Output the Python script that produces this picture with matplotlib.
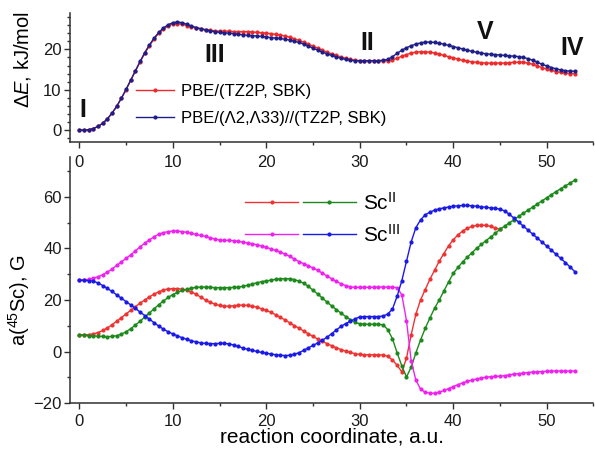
import numpy as np
import matplotlib
matplotlib.use("Agg")
import matplotlib.pyplot as plt
from matplotlib.ticker import MultipleLocator
from matplotlib.legend_handler import HandlerTuple

plt.rcParams['font.family'] = ['Liberation Sans', 'DejaVu Sans']
plt.rcParams['mathtext.fontset'] = 'custom'
plt.rcParams['mathtext.rm'] = 'Liberation Sans'
plt.rcParams['mathtext.it'] = 'Liberation Sans:italic'

#
# Reaction coordinate grid (a.u.), 0.5 step
#
coord = np.arange(0, 53.5, 0.5)

#
# Relative energies, kJ/mol
#
dE_tz2p = [0.0, 0.0, 0.1, 0.4, 0.9, 1.7, 2.8, 4.2, 5.9, 7.9,
           10.0, 12.3, 14.6, 16.9, 19.0, 20.9, 22.6, 24.0, 25.0, 25.8,
           26.3, 26.4, 26.2, 25.9, 25.6, 25.3, 25.1, 24.9, 24.7, 24.6,
           24.5, 24.5, 24.5, 24.4, 24.4, 24.4, 24.4, 24.3, 24.2, 24.1,
           24.0, 23.9, 23.7, 23.5, 23.3, 23.0, 22.6, 22.2, 21.8, 21.3,
           20.8, 20.3, 19.8, 19.3, 18.9, 18.5, 18.1, 17.8, 17.5, 17.3,
           17.2, 17.2, 17.2, 17.2, 17.2, 17.2, 17.2, 17.4, 17.8, 18.3,
           18.7, 19.1, 19.3, 19.4, 19.4, 19.3, 19.1, 18.8, 18.5, 18.2,
           17.9, 17.6, 17.3, 17.1, 16.9, 16.8, 16.7, 16.6, 16.6, 16.6,
           16.6, 16.6, 16.7, 16.8, 16.8, 16.8, 16.6, 16.3, 15.9, 15.5,
           15.1, 14.8, 14.5, 14.3, 14.1, 14.0, 14.0]

dE_lambda = [0.0, 0.0, 0.1, 0.4, 0.9, 1.7, 2.8, 4.2, 5.9, 7.9,
             10.1, 12.4, 14.7, 17.0, 19.2, 21.1, 22.8, 24.2, 25.3, 26.1,
             26.6, 26.8, 26.6, 26.2, 25.8, 25.4, 25.1, 24.8, 24.6, 24.4,
             24.2, 24.1, 24.0, 23.9, 23.7, 23.6, 23.5, 23.4, 23.3, 23.2,
             23.1, 22.9, 22.8, 22.7, 22.5, 22.3, 22.0, 21.7, 21.3, 20.8,
             20.3, 19.8, 19.3, 18.9, 18.5, 18.1, 17.8, 17.5, 17.3, 17.2,
             17.2, 17.2, 17.2, 17.2, 17.2, 17.3, 17.5, 18.2, 19.0, 19.8,
             20.4, 20.9, 21.3, 21.6, 21.8, 21.8, 21.7, 21.5, 21.3, 21.0,
             20.7, 20.4, 20.1, 19.8, 19.5, 19.3, 19.1, 18.9, 18.8, 18.7,
             18.6, 18.5, 18.4, 18.3, 18.2, 18.0, 17.7, 17.3, 16.8, 16.3,
             15.9, 15.5, 15.2, 14.9, 14.7, 14.6, 14.6]

#
# 45Sc hyperfine constants, G
#
sc2_tz2p = [6.5, 6.5, 6.6, 6.9, 7.4, 8.2, 9.2, 10.4, 11.8, 13.2,
            14.6, 16.0, 17.4, 18.8, 20.0, 21.2, 22.3, 23.2, 23.9, 24.3,
            24.4, 24.4, 24.2, 23.8, 23.1, 22.2, 21.1, 20.0, 19.1, 18.4,
            17.9, 17.6, 17.6, 17.8, 18.0, 18.0, 17.9, 17.6, 17.2, 16.6,
            16.0, 15.2, 14.3, 13.3, 12.3, 11.2, 10.1, 9.1, 8.0, 6.9,
            5.9, 4.9, 4.0, 3.1, 2.3, 1.5, 0.8, 0.2, -0.3, -0.8,
            -1.1, -1.2, -1.2, -1.2, -1.2, -1.3, -1.8, -3.2, -5.3, -7.8,
            -2.5, 6.5, 14.5, 20.0, 24.0, 28.0, 31.5, 35.0, 38.0, 41.0,
            43.3, 45.2, 46.7, 47.8, 48.5, 48.9, 49.0, 48.9, 48.5, 47.9,
            47.4]

sc2_lambda = [6.5, 6.4, 6.2, 6.1, 6.0, 5.9, 5.8, 5.9, 6.2, 6.8,
              7.7, 8.9, 10.3, 11.8, 13.4, 15.0, 16.6, 18.2, 19.6, 21.0,
              22.1, 23.0, 23.7, 24.2, 24.6, 24.9, 25.0, 25.0, 24.9, 24.8,
              24.8, 24.8, 24.8, 24.9, 25.0, 25.3, 25.7, 26.2, 26.7, 27.1,
              27.4, 27.7, 28.0, 28.2, 28.3, 28.2, 27.9, 27.3, 26.5, 25.3,
              23.8, 22.3, 20.8, 19.2, 17.7, 16.3, 14.9, 13.6, 12.4, 11.4,
              10.8, 10.6, 10.6, 10.6, 10.6, 10.4, 8.5, 5.0, -0.5, -5.5,
              -9.8, -6.0, -0.5, 4.5, 9.0, 13.0, 16.8, 20.0, 23.5, 27.0,
              30.3, 32.6, 34.7, 36.6, 38.3, 40.0, 41.5, 43.0, 44.4, 45.8,
              47.4, 48.6, 49.9, 51.1, 52.4, 53.6, 54.8, 56.0, 57.2, 58.4,
              59.6, 60.8, 62.0, 63.1, 64.2, 65.3, 66.4]

sc3_tz2p = [27.7, 27.8, 28.0, 28.4, 29.0, 29.8, 30.8, 32.0, 33.4, 34.8,
            36.1, 37.5, 39.0, 40.6, 42.0, 43.3, 44.5, 45.5, 46.1, 46.5,
            46.7, 46.7, 46.5, 46.2, 45.8, 45.4, 45.0, 44.6, 44.1, 43.6,
            43.2, 43.1, 43.1, 43.0, 42.7, 42.4, 42.1, 41.8, 41.4, 40.9,
            40.4, 39.8, 39.2, 38.5, 37.8, 36.9, 35.9, 34.9, 34.1, 33.3,
            32.4, 31.5, 30.4, 29.3, 28.2, 27.2, 26.3, 25.6, 25.1, 24.9,
            24.9, 24.9, 24.9, 24.9, 25.0, 25.0, 25.0, 25.0, 24.8, 22.0,
            12.0, -3.5, -11.0, -14.5, -15.7, -16.1, -16.1, -15.7, -15.0, -14.3,
            -13.5, -12.8, -12.1, -11.5, -11.0, -10.6, -10.2, -9.9, -9.7, -9.6,
            -9.5, -9.3, -9.0, -8.7, -8.5, -8.3, -8.1, -7.9, -7.8, -7.7,
            -7.6, -7.5, -7.5, -7.5, -7.5, -7.5, -7.5]

sc3_lambda = [27.7, 27.6, 27.5, 27.3, 26.6, 25.6, 24.5, 23.3, 22.0, 20.7,
              19.4, 18.1, 16.8, 15.3, 14.0, 12.6, 11.2, 9.9, 8.7, 7.7,
              6.9, 6.1, 5.4, 4.8, 4.2, 3.8, 3.4, 3.2, 3.1, 3.1,
              3.2, 3.2, 3.0, 2.6, 2.0, 1.4, 0.9, 0.5, 0.1, -0.3,
              -0.6, -0.9, -1.2, -1.4, -1.5, -1.4, -1.0, -0.4, 0.5, 1.5,
              2.4, 3.4, 4.4, 5.6, 7.0, 8.4, 9.8, 10.9, 11.8, 12.7,
              13.5, 13.6, 13.6, 13.6, 13.6, 13.8, 14.6, 16.5, 21.5, 27.5,
              35.0, 42.5, 48.0, 51.0, 53.0, 54.0, 54.8, 55.3, 55.7, 56.0,
              56.3, 56.5, 56.6, 56.6, 56.5, 56.3, 56.1, 55.9, 55.7, 55.5,
              55.2, 54.5, 53.2, 51.7, 50.2, 48.6, 47.1, 45.5, 44.0, 42.4,
              40.9, 39.3, 37.7, 36.1, 34.5, 32.8, 31.0]

# Stationary point labels on the energy profile
points = ["I", "III", "II", "V", "IV"]
points_x = [0.4, 14.5, 30.8, 43.4, 52.7]
points_y = [5.0, 18.6, 21.5, 24.4, 20.3]

#
# Make plot
#
fig = plt.figure(figsize=(5.95, 4.53), dpi=100)
ax1 = fig.add_axes([0.1176, 0.686, 0.8798, 0.2853])
ax2 = fig.add_axes([0.1176, 0.1097, 0.8798, 0.5444])
ax2.patch.set_visible(False)  # keep the upper tick labels visible

dark = "#303030"
for ax in (ax1, ax2):
    for s in ("top", "right"):
        ax.spines[s].set_visible(False)
    for s in ("left", "bottom"):
        ax.spines[s].set_color(dark)
        ax.spines[s].set_linewidth(1.1)
    ax.tick_params(which="both", direction="out", colors=dark, labelcolor="#1a1a1a",
                   labelsize=12, width=1.0)
    ax.tick_params(which="major", length=4)
    ax.tick_params(which="minor", length=2.5)
    ax.tick_params(axis="y", pad=2)
    ax.set_xlim(-1, 55)
    ax.xaxis.set_major_locator(MultipleLocator(10))
    ax.xaxis.set_minor_locator(MultipleLocator(5))
ax1.tick_params(axis="x", pad=5)
ax2.tick_params(axis="x", pad=3.5)

mk = dict(marker="o", markersize=2.0, linewidth=1.0)

ax1.plot(coord, dE_tz2p, color="#ee2a2a", label="PBE/(TZ2P, SBK)", **mk)
ax1.plot(coord, dE_lambda, color="#1e1e8a", label="PBE/(\u039b2,\u039b33)//(TZ2P, SBK)", **mk)
ax1.set_ylim(-3, 29)
ax1.yaxis.set_major_locator(MultipleLocator(10))
ax1.yaxis.set_minor_locator(MultipleLocator(2))
ax1.set_ylabel("\u0394$\\mathit{E}$, kJ/mol", fontsize=14.5)
ax1.yaxis.set_label_coords(-0.071, 0.64)
ax1.legend(loc="upper left", bbox_to_anchor=(0.126, 0.45), frameon=False, fontsize=12,
           borderpad=0, borderaxespad=0, handlelength=2.3, handletextpad=0.42,
           labelspacing=0.71)
for lab, px, py in zip(points, points_x, points_y):
    ax1.text(px, py, lab, fontsize=18, fontweight="bold", ha="center", va="center",
             color="#111111")

l_r, = ax2.plot(coord[:len(sc2_tz2p)], sc2_tz2p, color="#ee3333", **mk)
l_g, = ax2.plot(coord, sc2_lambda, color="#1b8a1b", **mk)
l_m, = ax2.plot(coord, sc3_tz2p, color="#ee22ee", **mk)
l_b, = ax2.plot(coord, sc3_lambda, color="#1a1ae6", **mk)
ax2.set_ylim(-20, 75.5)
ax2.yaxis.set_major_locator(MultipleLocator(20))
ax2.yaxis.set_minor_locator(MultipleLocator(10))
ax2.set_ylabel("a($^{45}$Sc), G", fontsize=14.5)
ax2.yaxis.set_label_coords(-0.073, 0.42)
ax2.set_xlabel("reaction coordinate, a.u.", fontsize=15)
ax2.xaxis.set_label_coords(0.5, -0.099)
ax2.legend([(l_r, l_g), (l_m, l_b)], ["Sc$^{\\mathrm{II}}$", "Sc$^{\\mathrm{III}}$"],
           handler_map={tuple: HandlerTuple(ndivide=None, pad=0.25)},
           loc="upper left", bbox_to_anchor=(0.335, 0.858), frameon=False, fontsize=15,
           borderpad=0, borderaxespad=0, handlelength=5.3, handletextpad=0.33,
           labelspacing=0.48)

fig.savefig("out.png", dpi=100)
